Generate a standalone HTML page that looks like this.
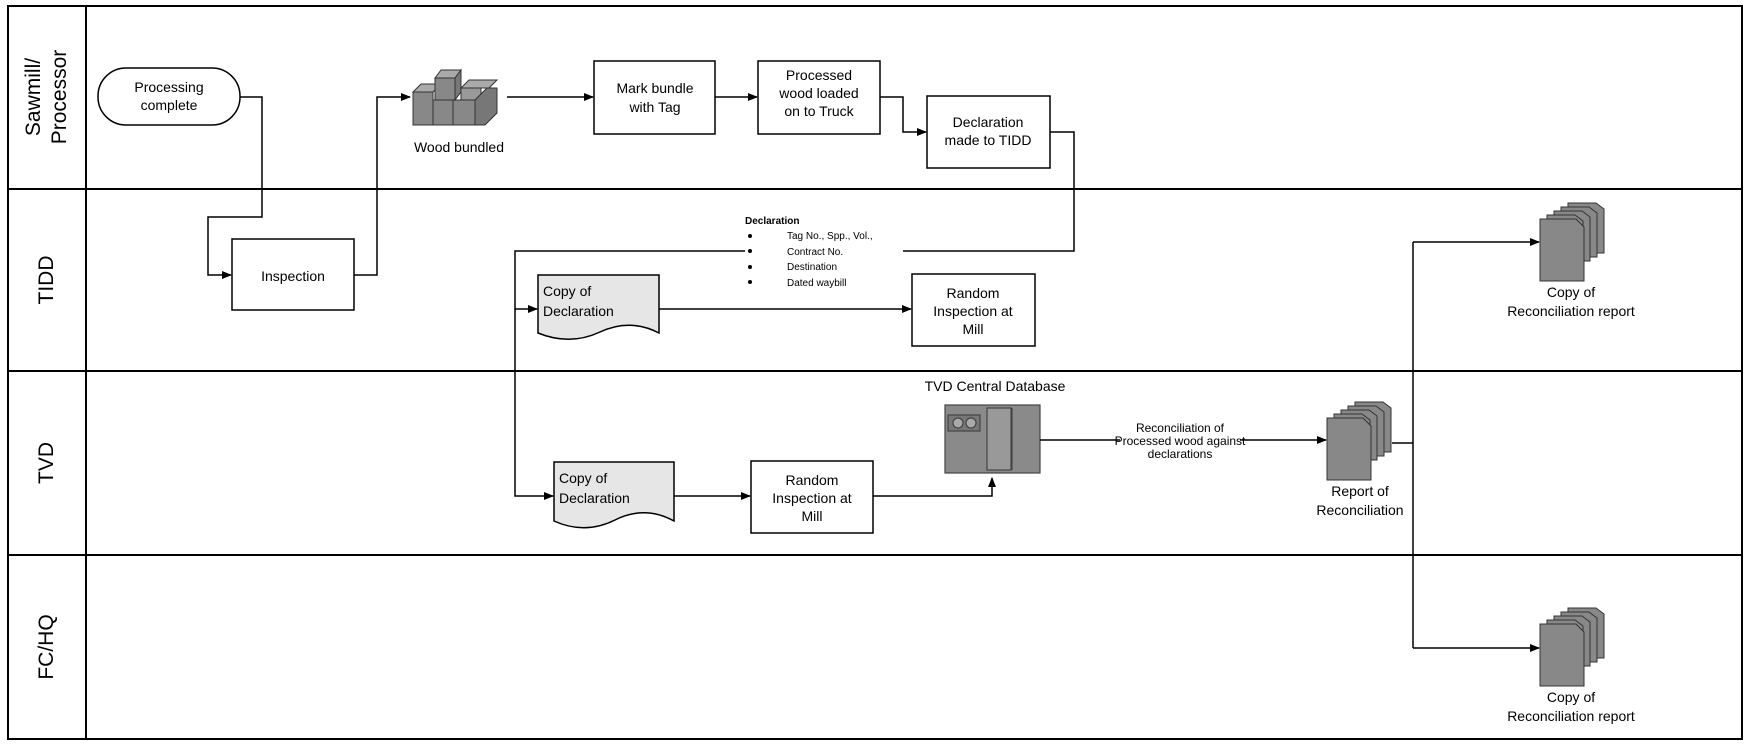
<!DOCTYPE html>
<html><head><meta charset="utf-8"><style>
html,body{margin:0;padding:0;background:#fff;}
svg{display:block;font-family:"Liberation Sans",Arial,sans-serif;}
</style></head><body>
<svg width="1748" height="747" viewBox="0 0 1748 747" xmlns="http://www.w3.org/2000/svg">
<defs>
<marker id="a" markerWidth="10" markerHeight="10" refX="9" refY="5" orient="auto" markerUnits="userSpaceOnUse">
<path d="M0,1 L10,5 L0,9 Z" fill="#000"/></marker>
<g id="stack">
<path d="M28,0 h28 l8,6 v44 h-36z" fill="#888" stroke="#333"/>
<path d="M21,4 h28 l8,6 v44 h-36z" fill="#888" stroke="#333"/>
<path d="M14,8 h28 l8,6 v44 h-36z" fill="#888" stroke="#333"/>
<path d="M7,12 h28 l8,6 v44 h-36z" fill="#888" stroke="#333"/>
<path d="M0,16 h36 l8,8 v54 h-44z" fill="#888" stroke="#333"/>
</g>
</defs>
<g fill="none" stroke="#000" stroke-width="2">
<rect x="8" y="6" width="1734" height="733"/>
<line x1="86" y1="6" x2="86" y2="739"/>
<line x1="8" y1="189" x2="1742" y2="189"/>
<line x1="8" y1="371" x2="1742" y2="371"/>
<line x1="8" y1="555" x2="1742" y2="555"/>
</g>
<g font-size="21" text-anchor="middle">
<text transform="translate(40,97) rotate(-90)">Sawmill/</text>
<text transform="translate(66,97) rotate(-90)">Processor</text>
<text transform="translate(53,280) rotate(-90)">TIDD</text>
<text transform="translate(53,463) rotate(-90)">TVD</text>
<text transform="translate(53,647) rotate(-90)">FC/HQ</text>
</g>
<g stroke="#000" stroke-width="1.5" fill="#fff">
<rect x="98" y="68" width="142" height="57" rx="28"/>
<rect x="232" y="239" width="122" height="71"/>
<rect x="594" y="61" width="121" height="73"/>
<rect x="758" y="61" width="122" height="73"/>
<rect x="927" y="96" width="123" height="72"/>
<rect x="912" y="274" width="123" height="72"/>
<rect x="751" y="461" width="122" height="72"/>
<path d="M538,275 H659 V333 Q630,318 600,332 T538,333 Z" fill="#e6e6e6"/>
<path d="M554,462 H674 V521 Q645,505 615,520 T554,521 Z" fill="#e6e6e6"/>
</g>
<g stroke="#333" stroke-width="1" fill="#888">
<rect x="413" y="92" width="20" height="33"/>
<path d="M413,92 l8,-8 h20 l-8,8z" fill="#aaa"/>
<rect x="433" y="100" width="20" height="25"/>
<rect x="453" y="100" width="22" height="25"/>
<rect x="435" y="78" width="20" height="22"/>
<path d="M435,78 l6,-8 h20 l-6,8z" fill="#aaa"/>
<path d="M455,78 l6,-8 v22 l-6,8z" fill="#777"/>
<rect x="461" y="88" width="20" height="12" fill="#999"/>
<path d="M475,100 l12,-12 h10 v25 l-12,12 h-10z" fill="#777"/>
<path d="M461,88 l8,-8 h28 l-8,8z" fill="#aaa"/>
</g>
<g stroke="#444" stroke-width="1.2" fill="#8a8a8a">
<rect x="945" y="405" width="95" height="68"/>
<rect x="948" y="415" width="32" height="16" fill="#777"/>
<circle cx="958" cy="423" r="5" fill="#aaa"/><circle cx="971" cy="423" r="5" fill="#aaa"/>
<rect x="987" y="408" width="24" height="62" fill="#999"/>
<line x1="1012" y1="408" x2="1012" y2="470"/>
</g>
<use href="#stack" x="1327" y="402"/>
<use href="#stack" x="1540" y="203"/>
<use href="#stack" x="1540" y="608"/>
<g fill="none" stroke="#000" stroke-width="1.5" marker-end="url(#a)">
<path d="M240,97 H262 V217 H208 V275 H231"/>
<path d="M354,275 H377 V97 H410"/>
<path d="M507,97 H593"/>
<path d="M715,97 H757"/>
<path d="M880,97 H903 V132 H926"/>
<path d="M745,251 H515 V309 H537"/>
<path d="M515,309 V496 H553"/>
<path d="M659,309 H911"/>
<path d="M674,496 H750"/>
<path d="M873,496 H992 V478"/>
<path d="M1040,440 H1326"/>
<path d="M1413,242 H1539"/>
<path d="M1413,648 H1539"/>
</g>
<g fill="none" stroke="#000" stroke-width="1.5">
<path d="M1050,132 H1074 V251 H903"/>
<path d="M1392,443 H1413 M1413,242 V648"/>
</g>
<rect x="1120" y="432" width="120" height="16" fill="#fff"/>
<g font-size="14" text-anchor="middle" fill="#000">
<text x="169" y="92">Processing</text><text x="169" y="110">complete</text>
<text x="293" y="281">Inspection</text>
<text x="459" y="152">Wood bundled</text>
<text x="655" y="93">Mark bundle</text><text x="655" y="112">with Tag</text>
<text x="819" y="80">Processed</text><text x="819" y="98">wood loaded</text><text x="819" y="116">on to Truck</text>
<text x="988" y="127">Declaration</text><text x="988" y="145">made to TIDD</text>
<text x="973" y="298">Random</text><text x="973" y="316">Inspection at</text><text x="973" y="334">Mill</text>
<text x="812" y="485">Random</text><text x="812" y="503">Inspection at</text><text x="812" y="521">Mill</text>
<text x="995" y="391">TVD Central Database</text>
<text x="1360" y="496">Report of</text><text x="1360" y="515">Reconciliation</text>
<text x="1571" y="297">Copy of</text><text x="1571" y="316">Reconciliation report</text>
<text x="1571" y="702">Copy of</text><text x="1571" y="721">Reconciliation report</text>
</g>
<g font-size="14" fill="#000">
<text x="543" y="296">Copy of</text><text x="543" y="316">Declaration</text>
<text x="559" y="483">Copy of</text><text x="559" y="503">Declaration</text>
</g>
<g font-size="12" text-anchor="middle">
<text x="1180" y="432">Reconciliation of</text>
<text x="1180" y="445">Processed wood against</text>
<text x="1180" y="458">declarations</text>
</g>
<g font-size="10">
<text x="745" y="224" font-weight="bold">Declaration</text>
<text x="787" y="239">Tag No., Spp., Vol.,</text>
<text x="787" y="255">Contract No.</text>
<text x="787" y="270">Destination</text>
<text x="787" y="286">Dated waybill</text>
<circle cx="750" cy="236" r="2"/><circle cx="750" cy="251" r="2"/><circle cx="750" cy="267" r="2"/><circle cx="750" cy="282" r="2"/>
</g>
</svg>
</body></html>
